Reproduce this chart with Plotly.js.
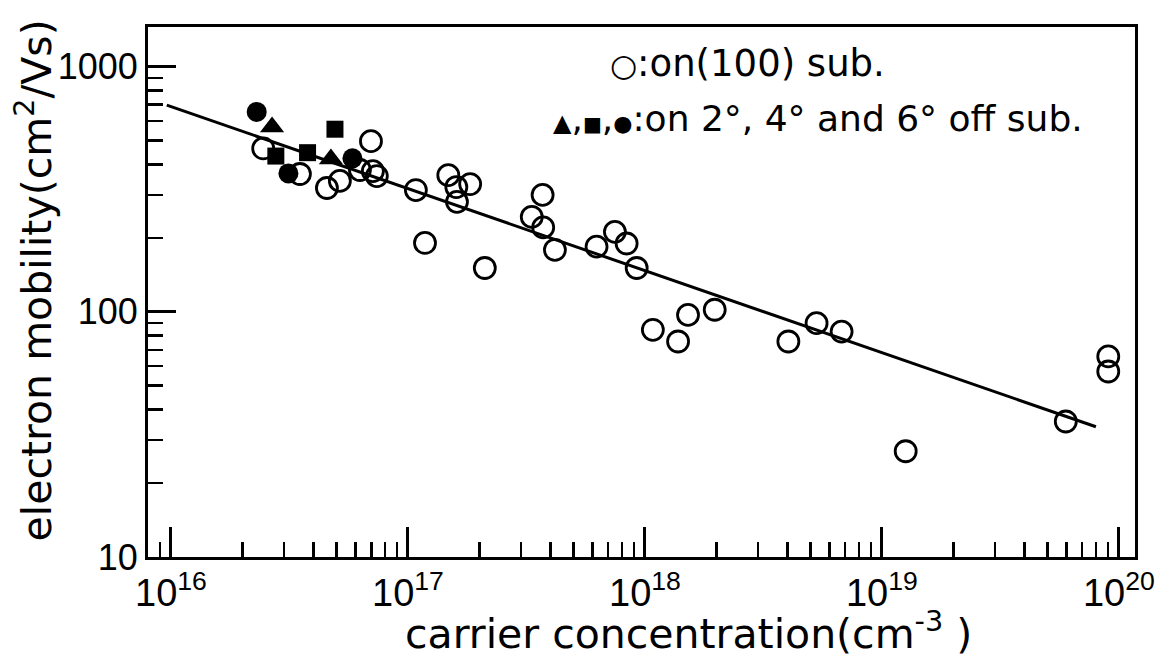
<!DOCTYPE html>
<html>
<head>
<meta charset="utf-8">
<script src="https://cdn.plot.ly/plotly-3.0.1.min.js"></script>
<style>html,body{margin:0;padding:0;background:#fff;}#chart{width:1170px;height:657px;}</style>
</head>
<body>
<div id="chart"></div>
<script>
// ---- data ----
const xTickVals = [1e16, 1e17, 1e18, 1e19, 1e20];
const xTickText = ['10<sup>16</sup>', '10<sup>17</sup>', '10<sup>18</sup>', '10<sup>19</sup>', '10<sup>20</sup>'];
const yTickVals = [10, 100, 1000];
const yTickText = ['10', '100', '1000'];

// open circles: on (100) substrate
const openX = [2.45e16, 3.50e16, 4.55e16, 5.16e16, 6.27e16, 7.11e16, 7.39e16, 6.98e16,
  1.08e17, 1.18e17, 1.48e17, 1.60e17, 1.83e17, 1.61e17, 2.11e17, 3.70e17, 3.33e17,
  3.72e17, 4.17e17, 6.25e17, 7.47e17, 8.37e17, 9.23e17, 1.08e18, 1.52e18, 1.38e18,
  1.97e18, 4.03e18, 5.30e18, 6.76e18, 1.26e19, 5.97e19, 9.02e19, 9.02e19];
const openY = [464, 365, 320, 342, 379, 375, 358, 497,
  314, 191, 361, 323, 332, 281, 151, 300, 244,
  221, 179, 184.5, 212, 190, 151, 84.5, 97.2, 75.7,
  102, 75.7, 89.9, 83.1, 27.0, 35.7, 65.8, 57.1];

// filled triangles: 2 deg off
const triX = [2.67e16, 4.73e16];
const triY = [567, 420];
// filled squares: 4 deg off
const sqX = [2.77e16, 3.77e16, 4.92e16];
const sqY = [432, 446, 556];
// filled circles: 6 deg off
const dotX = [2.30e16, 3.13e16, 5.83e16];
const dotY = [654, 367, 423];

// fitted line
const fitX = [9.6e15, 8.0e19];
const fitY = [697, 34];

// ---- minor tick positions (2..9 x 10^n) ----
function minors(lo, hi) {
  const out = [];
  for (let e = lo; e <= hi; e++) for (let m = 2; m <= 9; m++) out.push(m * Math.pow(10, e));
  return out;
}

const NUMFONT = 'Liberation Sans, Arial, sans-serif';
const TXTFONT = 'DejaVu Sans, Verdana, sans-serif';
const K = '#000';

const traces = [
  {x: fitX, y: fitY, mode: 'lines', line: {color: K, width: 3}, hoverinfo: 'skip'},
  {x: openX, y: openY, mode: 'markers',
   marker: {symbol: 'circle-open', size: 21, color: K, line: {color: K, width: 2.8}}},
  {x: triX, y: triY, mode: 'markers', marker: {symbol: 'triangle-up', size: 21, color: K}},
  {x: sqX, y: sqY, mode: 'markers', marker: {symbol: 'square', size: 17, color: K}},
  {x: dotX, y: dotY, mode: 'markers', marker: {symbol: 'circle', size: 20, color: K}}
];

const layout = {
  width: 1170, height: 657,
  paper_bgcolor: '#fff', plot_bgcolor: '#fff',
  showlegend: false,
  margin: {l: 148, r: 35, t: 27, b: 100, pad: 0},
  font: {family: TXTFONT, color: K, size: 38},
  xaxis: {
    type: 'log', range: [15.903, 20.068],
    showgrid: false, zeroline: false,
    showline: true, linecolor: K, linewidth: 3, mirror: true,
    tickmode: 'array', tickvals: xTickVals, ticktext: xTickText,
    ticks: 'inside', ticklen: 30, tickwidth: 3, tickcolor: K,
    tickfont: {family: NUMFONT, size: 38, color: K},
    ticklabelstandoff: 0,
    minor: {tickmode: 'array', tickvals: minors(15, 19), ticks: 'inside', ticklen: 15, tickwidth: 2.5, tickcolor: K, showgrid: false}
  },
  yaxis: {
    type: 'log', range: [1, 3.162],
    showgrid: false, zeroline: false,
    showline: true, linecolor: K, linewidth: 3, mirror: true,
    tickmode: 'array', tickvals: yTickVals, ticktext: yTickText,
    ticks: 'inside', ticklen: 28, tickwidth: 3, tickcolor: K,
    tickfont: {family: NUMFONT, size: 36, color: K},
    ticklabelstandoff: 0,
    minor: {tickmode: 'array', tickvals: minors(1, 2), ticks: 'inside', ticklen: 15, tickwidth: 2.5, tickcolor: K, showgrid: false}
  },
  annotations: [
    {xref: 'paper', yref: 'paper', x: 0.5475, y: -0.14, xanchor: 'center', yanchor: 'middle',
     text: 'carrier concentration(cm<sup>-3</sup> )', showarrow: false,
     font: {family: TXTFONT, size: 41, color: K}},
    {xref: 'paper', yref: 'paper', x: -0.116, y: 0.521, xanchor: 'center', yanchor: 'middle',
     textangle: -90, text: 'electron mobility(cm<sup>2</sup>/Vs)', showarrow: false,
     font: {family: TXTFONT, size: 41, color: K}},
    {xref: 'paper', yref: 'paper', x: 0.466, y: 0.932, xanchor: 'left', yanchor: 'middle',
     text: '<span style="font-size:31px">○</span>:on(100) sub.', showarrow: false, font: {family: TXTFONT, size: 37, color: K}},
    {xref: 'paper', yref: 'paper', x: 0.408, y: 0.828, xanchor: 'left', yanchor: 'middle',
     text: '<span style="font-size:24px">▲</span>,<span style="font-size:20px">■</span>,<span style="font-size:22px">●</span>:on 2°, 4° and 6° off sub.',
     showarrow: false, font: {family: TXTFONT, size: 36, color: K}}
  ]
};

Plotly.newPlot('chart', traces, layout, {displayModeBar: false, staticPlot: true});
</script>
</body>
</html>
